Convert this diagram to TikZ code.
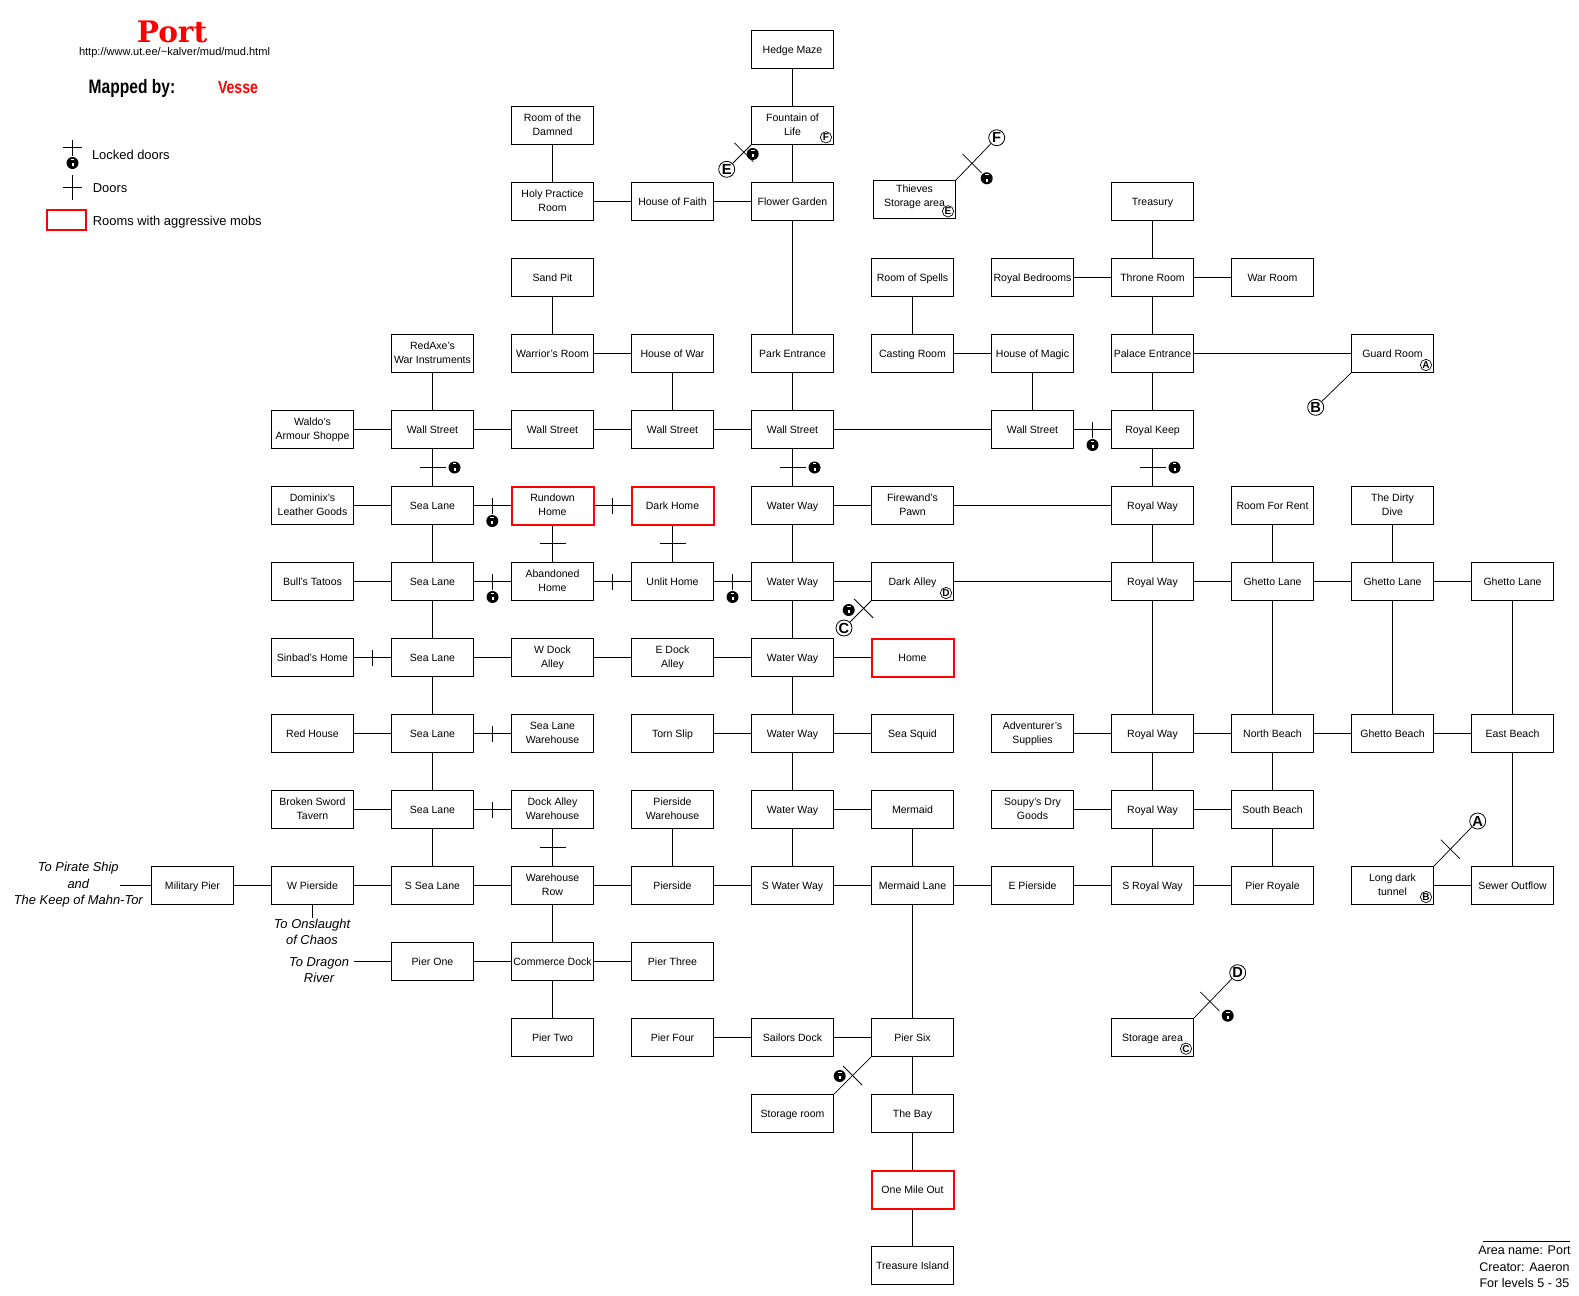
\documentclass[tikz,border=0pt]{standalone}
\usepackage{fontspec}
\setmainfont{Liberation Sans}
\newfontfamily\titlefont{DejaVu Serif}
\newfontfamily\mapperfont[FakeStretch=0.8]{Liberation Sans}

\tikzset{
  room/.style={draw,line width=0.75pt,inner sep=0pt,minimum width=61.5pt,minimum height=28.5pt,
    align=center,font=\fontsize{7.9}{10.5}\selectfont,
    execute at begin node={\rule{0pt}{7.2pt}},execute at end node={\rule[-1.6pt]{0pt}{1.6pt}}},
  mobroom/.style={room,draw=red,line width=1.5pt},
  golabel/.style={align=center,font=\fontsize{9.7}{12.3}\selectfont\itshape},
  legend/.style={anchor=west,inner sep=0pt,font=\fontsize{9.7}{11}\selectfont},
  bigmark/.style={draw,circle,line width=0.6pt,inner sep=0pt,minimum size=12pt,font=\fontsize{11}{11}\selectfont\bfseries},
  smallmark/.style={draw,circle,line width=0.5pt,inner sep=0pt,minimum size=8.5pt,font=\fontsize{7.5}{8}\selectfont\bfseries},
  diagonal/.style={line width=0.55pt},
  lockicon/.pic={
    \fill (0,0) circle (6);
    \fill (-5,-2) rectangle (5,3.2);
    \fill[white] (-1,0.2) rectangle (1,3.4);
    \fill[white] (-1.8,-4.2) rectangle (1.8,-3.2);
  }
}

% doors on a connector
\newcommand{\doorup}[1]{\draw (#1) ++(0,-8) -- ++(0,16);}
\newcommand{\doorflat}[1]{\draw (#1) ++(-13,0) -- ++(26,0);}
\newcommand{\doorcross}[1]{\draw[diagonal] (#1) ++(-9.5,-9.5) -- ++(19,19);}
\newcommand{\lockup}[1]{\draw (#1) ++(0,-8) -- ++(0,16); \path (#1) ++(0,15.5) pic {lockicon};}
\newcommand{\lockflat}[1]{\draw (#1) ++(-13,0) -- ++(26,0); \path (#1) ++(22,0) pic {lockicon};}

\begin{document}
\begin{tikzpicture}[x=0.75pt,y=-0.75pt,line width=0.75pt]
\useasboundingbox (0,0) rectangle (1579,1296);

% Title
\node[anchor=base,red,inner sep=0pt,font=\titlefont\fontsize{22.2}{24}\selectfont\bfseries] (title) at (172,42.7) {Port};
\node[anchor=base,inner sep=0pt,font=\fontsize{8.3}{9}\selectfont] (url) at (174.5,55.5) {http://www.ut.ee/\string~kalver/mud/mud.html};
\node[anchor=base,inner sep=0pt,font=\mapperfont\fontsize{14.6}{16}\selectfont\bfseries] (mapped) at (132,93.3) {Mapped by:};
\node[anchor=base,red,inner sep=0pt,font=\mapperfont\fontsize{13.2}{16}\selectfont\bfseries] (mapper) at (238,93.3) {Vesse};

% Legend
\coordinate (lockdoor) at (72.5,147.5);
\draw (lockdoor) ++(-9.5,0) -- ++(19,0);
\draw (lockdoor) ++(0,-8) -- ++(0,16);
\path (72.5,163) pic {lockicon};
\node[legend] (lockedtext) at (91.5,155) {Locked doors};
\coordinate (opendoor) at (72.5,187.5);
\draw (opendoor) ++(-9.5,0) -- ++(19,0);
\draw (opendoor) ++(0,-12.5) -- ++(0,25);
\node[legend] (doortext) at (92.3,188) {Doors};
\node[draw=red,line width=1.5pt,inner sep=0pt,minimum width=29.25pt,minimum height=15pt] (legendbox) at (66.5,220) {};
\node[legend] (mobtext) at (92.3,222) {Rooms with aggressive mobs};

% Rooms, top to bottom
\node[room] (hedgemaze) at (792.5,49.5) {Hedge Maze};

\node[room] (damned) at (552.5,125.5) {Room of the\\Damned};
\node[room] (fountain) at (792.5,125.5) {Fountain of\\Life};

\node[room] (holy) at (552.5,201.5) {Holy Practice\\Room};
\node[room] (faith) at (672.5,201.5) {House of Faith};
\node[room] (flower) at (792.5,201.5) {Flower Garden};
\node[room] (thieves) at (914.5,199.5) {Thieves\\Storage area\rule[-5.5pt]{0pt}{5.5pt}};
\node[room] (treasury) at (1152.5,201.5) {Treasury};

\node[room] (sandpit) at (552.5,277.5) {Sand Pit};
\node[room] (spells) at (912.5,277.5) {Room of Spells};
\node[room] (bedrooms) at (1032.5,277.5) {Royal Bedrooms};
\node[room] (throne) at (1152.5,277.5) {Throne Room};
\node[room] (warroom) at (1272.5,277.5) {War Room};

\node[room] (redaxe) at (432.5,353.5) {RedAxe's\\War Instruments};
\node[room] (warrior) at (552.5,353.5) {Warrior's Room};
\node[room] (housewar) at (672.5,353.5) {House of War};
\node[room] (park) at (792.5,353.5) {Park Entrance};
\node[room] (casting) at (912.5,353.5) {Casting Room};
\node[room] (magic) at (1032.5,353.5) {House of Magic};
\node[room] (palace) at (1152.5,353.5) {Palace Entrance};
\node[room] (guard) at (1392.5,353.5) {Guard Room};

\node[room] (waldo) at (312.5,429.5) {Waldo's\\Armour Shoppe};
\node[room] (walla) at (432.5,429.5) {Wall Street};
\node[room] (wallb) at (552.5,429.5) {Wall Street};
\node[room] (wallc) at (672.5,429.5) {Wall Street};
\node[room] (walld) at (792.5,429.5) {Wall Street};
\node[room] (walle) at (1032.5,429.5) {Wall Street};
\node[room] (keep) at (1152.5,429.5) {Royal Keep};

\node[room] (dominix) at (312.5,505.5) {Dominix's\\Leather Goods};
\node[room] (seaa) at (432.5,505.5) {Sea Lane};
\node[mobroom] (rundown) at (552.5,505.5) {Rundown\\Home};
\node[mobroom] (darkhome) at (672.5,505.5) {Dark Home};
\node[room] (watera) at (792.5,505.5) {Water Way};
\node[room] (firewand) at (912.5,505.5) {Firewand's\\Pawn};
\node[room] (royala) at (1152.5,505.5) {Royal Way};
\node[room] (rent) at (1272.5,505.5) {Room For Rent};
\node[room] (dive) at (1392.5,505.5) {The Dirty\\Dive};

\node[room] (bull) at (312.5,581.5) {Bull's Tatoos};
\node[room] (seab) at (432.5,581.5) {Sea Lane};
\node[room] (abandoned) at (552.5,581.5) {Abandoned\\Home};
\node[room] (unlit) at (672.5,581.5) {Unlit Home};
\node[room] (waterb) at (792.5,581.5) {Water Way};
\node[room] (darkalley) at (912.5,581.5) {Dark Alley};
\node[room] (royalb) at (1152.5,581.5) {Royal Way};
\node[room] (ghettoa) at (1272.5,581.5) {Ghetto Lane};
\node[room] (ghettob) at (1392.5,581.5) {Ghetto Lane};
\node[room] (ghettoc) at (1512.5,581.5) {Ghetto Lane};

\node[room] (sinbad) at (312.5,657.5) {Sinbad's Home};
\node[room] (seac) at (432.5,657.5) {Sea Lane};
\node[room] (wdock) at (552.5,657.5) {W Dock\\Alley};
\node[room] (edock) at (672.5,657.5) {E Dock\\Alley};
\node[room] (waterc) at (792.5,657.5) {Water Way};
\node[mobroom] (home) at (912.5,657.5) {Home};

\node[room] (redhouse) at (312.5,733.5) {Red House};
\node[room] (sead) at (432.5,733.5) {Sea Lane};
\node[room] (seaware) at (552.5,733.5) {Sea Lane\\Warehouse};
\node[room] (tornslip) at (672.5,733.5) {Torn Slip};
\node[room] (waterd) at (792.5,733.5) {Water Way};
\node[room] (squid) at (912.5,733.5) {Sea Squid};
\node[room] (adventurer) at (1032.5,733.5) {Adventurer's\\Supplies};
\node[room] (royalc) at (1152.5,733.5) {Royal Way};
\node[room] (north) at (1272.5,733.5) {North Beach};
\node[room] (ghettobeach) at (1392.5,733.5) {Ghetto Beach};
\node[room] (east) at (1512.5,733.5) {East Beach};

\node[room] (broken) at (312.5,809.5) {Broken Sword\\Tavern};
\node[room] (seae) at (432.5,809.5) {Sea Lane};
\node[room] (dockware) at (552.5,809.5) {Dock Alley\\Warehouse};
\node[room] (pierware) at (672.5,809.5) {Pierside\\Warehouse};
\node[room] (watere) at (792.5,809.5) {Water Way};
\node[room] (mermaid) at (912.5,809.5) {Mermaid};
\node[room] (soupy) at (1032.5,809.5) {Soupy's Dry\\Goods};
\node[room] (royald) at (1152.5,809.5) {Royal Way};
\node[room] (south) at (1272.5,809.5) {South Beach};

\node[room] (military) at (192.5,885.5) {Military Pier};
\node[room] (wpier) at (312.5,885.5) {W Pierside};
\node[room] (ssea) at (432.5,885.5) {S Sea Lane};
\node[room] (warerow) at (552.5,885.5) {Warehouse\\Row};
\node[room] (pierside) at (672.5,885.5) {Pierside};
\node[room] (swater) at (792.5,885.5) {S Water Way};
\node[room] (mermaidlane) at (912.5,885.5) {Mermaid Lane};
\node[room] (epier) at (1032.5,885.5) {E Pierside};
\node[room] (sroyal) at (1152.5,885.5) {S Royal Way};
\node[room] (pierroyale) at (1272.5,885.5) {Pier Royale};
\node[room] (tunnel) at (1392.5,885.5) {Long dark\\tunnel};
\node[room] (sewer) at (1512.5,885.5) {Sewer Outflow};

\node[room] (pierone) at (432.5,961.5) {Pier One};
\node[room] (commerce) at (552.5,961.5) {Commerce Dock};
\node[room] (pierthree) at (672.5,961.5) {Pier Three};

\node[room] (piertwo) at (552.5,1037.5) {Pier Two};
\node[room] (pierfour) at (672.5,1037.5) {Pier Four};
\node[room] (sailors) at (792.5,1037.5) {Sailors Dock};
\node[room] (piersix) at (912.5,1037.5) {Pier Six};
\node[room] (storagearea) at (1152.5,1037.5) {Storage area};

\node[room] (storageroom) at (792.5,1113.5) {Storage room};
\node[room] (bay) at (912.5,1113.5) {The Bay};
\node[mobroom] (onemile) at (912.5,1189.5) {One Mile Out};
\node[room] (treasure) at (912.5,1265.5) {Treasure Island};

% Ways out of the area
\node[golabel] (piratetext) at (78.3,885) {To Pirate Ship\\and\\The Keep of Mahn-Tor};
\node[golabel] (chaostext) at (312,932) {To Onslaught\\of Chaos};
\node[golabel] (dragontext) at (319,970) {To Dragon\\River};
\coordinate (pirateend) at (119.5,885.5);
\coordinate (chaosend) at (312.5,918);
\coordinate (dragonend) at (354,961.5);

% Plain connectors
\draw (pirateend) -- (military) -- (wpier) -- (ssea) -- (warerow) -- (pierside) -- (swater) -- (mermaidlane) -- (epier) -- (sroyal) -- (pierroyale);
\draw (wpier) -- (chaosend);
\draw (dragonend) -- (pierone) -- (commerce) -- (pierthree);
\draw (tunnel) -- (sewer);
\draw (hedgemaze) -- (fountain) -- (flower) -- (park) -- (walld);
\draw (damned) -- (holy) -- (faith) -- (flower);
\draw (treasury) -- (throne) -- (palace) -- (keep);
\draw (bedrooms) -- (throne) -- (warroom);
\draw (spells) -- (casting) -- (magic) -- (walle);
\draw (sandpit) -- (warrior) -- (housewar) -- (wallc);
\draw (palace) -- (guard);
\draw (redaxe) -- (walla);
\draw (waldo) -- (walla) -- (wallb) -- (wallc) -- (walld) -- (walle);
\draw (dominix) -- (seaa) -- (seab) -- (seac) -- (sead) -- (seae) -- (ssea);
\draw (bull) -- (seab);
\draw (watera) -- (firewand) -- (royala) -- (royalb) -- (royalc) -- (royald) -- (sroyal);
\draw (watera) -- (waterb) -- (waterc) -- (waterd) -- (watere) -- (swater);
\draw (waterb) -- (darkalley) -- (royalb) -- (ghettoa) -- (ghettob) -- (ghettoc) -- (east) -- (sewer);
\draw (rent) -- (ghettoa) -- (north) -- (south) -- (pierroyale);
\draw (dive) -- (ghettob) -- (ghettobeach);
\draw (seac) -- (wdock) -- (edock) -- (waterc) -- (home);
\draw (redhouse) -- (sead);
\draw (tornslip) -- (waterd) -- (squid);
\draw (adventurer) -- (royalc) -- (north) -- (ghettobeach) -- (east);
\draw (broken) -- (seae);
\draw (pierware) -- (pierside);
\draw (watere) -- (mermaid) -- (mermaidlane) -- (piersix) -- (bay) -- (onemile) -- (treasure);
\draw (soupy) -- (royald) -- (south);
\draw (warerow) -- (commerce) -- (piertwo);
\draw (pierfour) -- (sailors) -- (piersix);

% Doors
\draw (seaa) -- coordinate (rundowndoor) (rundown);
\draw (rundown) -- coordinate (darkdoor) (darkhome);
\draw (rundown) -- coordinate (abandoneddoor) (abandoned);
\draw (darkhome) -- coordinate (unlitdoor) (unlit);
\draw (seab) -- coordinate (seabdoor) (abandoned);
\draw (abandoned) -- coordinate (homedoor) (unlit);
\draw (unlit) -- coordinate (waterdoor) (waterb);
\draw (sinbad) -- coordinate (sinbaddoor) (seac);
\draw (sead) -- coordinate (seawaredoor) (seaware);
\draw (seae) -- coordinate (dockdoor) (dockware);
\draw (dockware) -- coordinate (rowdoor) (warerow);
\draw (walla) -- coordinate (wallseadoor) (seaa);
\draw (walld) -- coordinate (wallwaterdoor) (watera);
\draw (walle) -- coordinate (keepdoor) (keep);
\draw (keep) -- coordinate (royaldoor) (royala);
\doorup{darkdoor}
\doorup{homedoor}
\doorup{sinbaddoor}
\doorup{seawaredoor}
\doorup{dockdoor}
\doorflat{abandoneddoor}
\doorflat{unlitdoor}
\doorflat{rowdoor}
\lockup{rundowndoor}
\lockup{seabdoor}
\lockup{waterdoor}
\lockup{keepdoor}
\lockflat{wallseadoor}
\lockflat{wallwaterdoor}
\lockflat{royaldoor}

% Secret links, each with a letter at both ends
\node[bigmark] (bige) at (726.7,169.3) {E};
\node[bigmark] (bigf) at (996.7,137.7) {F};
\node[bigmark] (bigb) at (1315.7,407.3) {B};
\node[bigmark] (bigc) at (844,628) {C};
\node[bigmark] (bigd) at (1237.7,972.7) {D};
\node[bigmark] (biga) at (1477.7,821) {A};
\node[smallmark] (smallf) at (826,137.3) {F};
\node[smallmark] (smalle) at (948,211.3) {E};
\node[smallmark] (smalla) at (1426,365) {A};
\node[smallmark] (smalld) at (946,593) {D};
\node[smallmark] (smallb) at (1426,897) {B};
\node[smallmark] (smallc) at (1186,1048.7) {C};

\draw[diagonal] (fountain.south west) -- coordinate[pos=0.39] (ecross) (bige);
\draw[diagonal] (thieves.north east) -- coordinate[pos=0.46] (fcross) (bigf);
\draw[diagonal] (guard.south west) -- (bigb);
\draw[diagonal] (darkalley.south west) -- coordinate[pos=0.35] (ccross) (bigc);
\draw[diagonal] (storagearea.north east) -- coordinate[pos=0.42] (dcross) (bigd);
\draw[diagonal] (tunnel.north east) -- coordinate[pos=0.43] (across) (biga);
\draw[diagonal] (piersix.south west) -- coordinate (storagecross) (storageroom.north east);
\doorcross{ecross}
\doorcross{fcross}
\doorcross{ccross}
\doorcross{dcross}
\doorcross{across}
\doorcross{storagecross}
\path (752.7,154) pic {lockicon};
\path (986.7,178.3) pic {lockicon};
\path (848.7,610) pic {lockicon};
\path (1227.7,1015.7) pic {lockicon};
\path (839.7,1076) pic {lockicon};

% Area notes
\coordinate (rulestart) at (1483,1241.5);
\coordinate (ruleend) at (1570,1241.5);
\draw (rulestart) -- (ruleend);
\node[align=center,inner sep=0pt,font=\fontsize{9.4}{12.4}\selectfont] (areanote) at (1524.5,1267) {Area name: Port\\Creator: Aaeron\\For levels 5 - 35};

\end{tikzpicture}
\end{document}
